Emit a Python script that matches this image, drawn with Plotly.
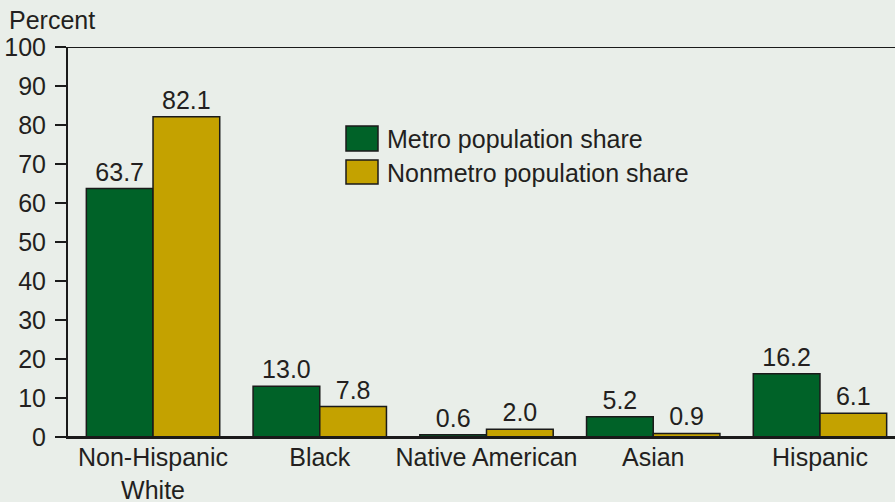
import plotly.graph_objects as go

categories = ["Non-Hispanic<br>White", "Black", "Native American", "Asian", "Hispanic"]
metro = [63.7, 13.0, 0.6, 5.2, 16.2]
nonmetro = [82.1, 7.8, 2.0, 0.9, 6.1]
series_names = ["Metro population share", "Nonmetro population share"]
y_ticks = [0, 10, 20, 30, 40, 50, 60, 70, 80, 90, 100]

BG = "#e9eee9"
GREEN = "#006228"
GOLD = "#c4a200"
TXT = "#231f20"
FONT = "Liberation Sans, Arial, sans-serif"
FS = 25

fig = go.Figure()
fig.add_trace(go.Bar(x=categories, y=metro, name=series_names[0], marker=dict(color=GREEN, line=dict(color="#1a1a1a", width=1.5)),
                     text=[f"{v:.1f}" for v in metro], textposition="outside", cliponaxis=False,
                     textfont=dict(size=FS, color=TXT, family=FONT)))
fig.add_trace(go.Bar(x=categories, y=nonmetro, name=series_names[1], marker=dict(color=GOLD, line=dict(color="#1a1a1a", width=1.5)),
                     text=[f"{v:.1f}" for v in nonmetro], textposition="outside", cliponaxis=False,
                     textfont=dict(size=FS, color=TXT, family=FONT)))

fig.update_layout(
    width=895, height=502,
    margin=dict(l=68, r=0, t=47, b=65),
    paper_bgcolor=BG, plot_bgcolor=BG,
    barmode="group", bargap=0.2, bargroupgap=0,
    showlegend=False,
    font=dict(family=FONT, size=FS, color=TXT),
    xaxis=dict(range=[-0.51, 4.45], showline=True, linecolor="#1a1a1a", linewidth=2,
               ticks="", tickfont=dict(size=FS, color=TXT), showgrid=False, zeroline=False,
               fixedrange=True, automargin=False, ticklabelstandoff=-3),
    yaxis=dict(range=[0, 100], tickvals=y_ticks, showline=True, linecolor="#1a1a1a", linewidth=2,
               ticks="outside", ticklen=11, tickwidth=2, tickcolor="#1a1a1a",
               tickfont=dict(size=FS, color=TXT), showgrid=False, zeroline=False, ticklabelstandoff=4,
               automargin=False),
    uniformtext=dict(mode=False),
)

# top border line at 100
fig.add_shape(type="line", xref="paper", yref="y", x0=-0.0133, x1=1, y0=100, y1=100,
              line=dict(color="#1a1a1a", width=2))
# bottom extended line at 0
fig.add_shape(type="line", xref="paper", yref="y", x0=-0.0133, x1=1, y0=0, y1=0,
              line=dict(color="#1a1a1a", width=2))

def px2paper_x(px):
    return (px - 68) / 827

def px2paper_y(py):
    return (437 - py) / 390

fig.add_annotation(text="Percent", xref="paper", yref="paper", x=px2paper_x(7), y=px2paper_y(20),
                   xanchor="left", yanchor="middle",
                   showarrow=False, font=dict(size=FS, color=TXT, family=FONT))

# custom legend
legend_rows = [(GREEN, 126, 151, 139), (GOLD, 160, 184, 173)]
for (col, top, bot, mid), name in zip(legend_rows, series_names):
    fig.add_shape(type="rect", xref="paper", yref="paper",
                  x0=px2paper_x(346), x1=px2paper_x(378), y0=px2paper_y(bot), y1=px2paper_y(top),
                  fillcolor=col, line=dict(color="#1a1a1a", width=1.5))
    fig.add_annotation(text=name, xref="paper", yref="paper", x=px2paper_x(385), y=px2paper_y(mid),
                       xanchor="left", yanchor="middle", showarrow=False,
                       font=dict(size=FS, color=TXT, family=FONT))

fig.write_html("out.html", config={"displayModeBar": False},
               post_script="document.body.style.margin='0';document.body.style.padding='0';document.body.style.background='%s';" % BG)
